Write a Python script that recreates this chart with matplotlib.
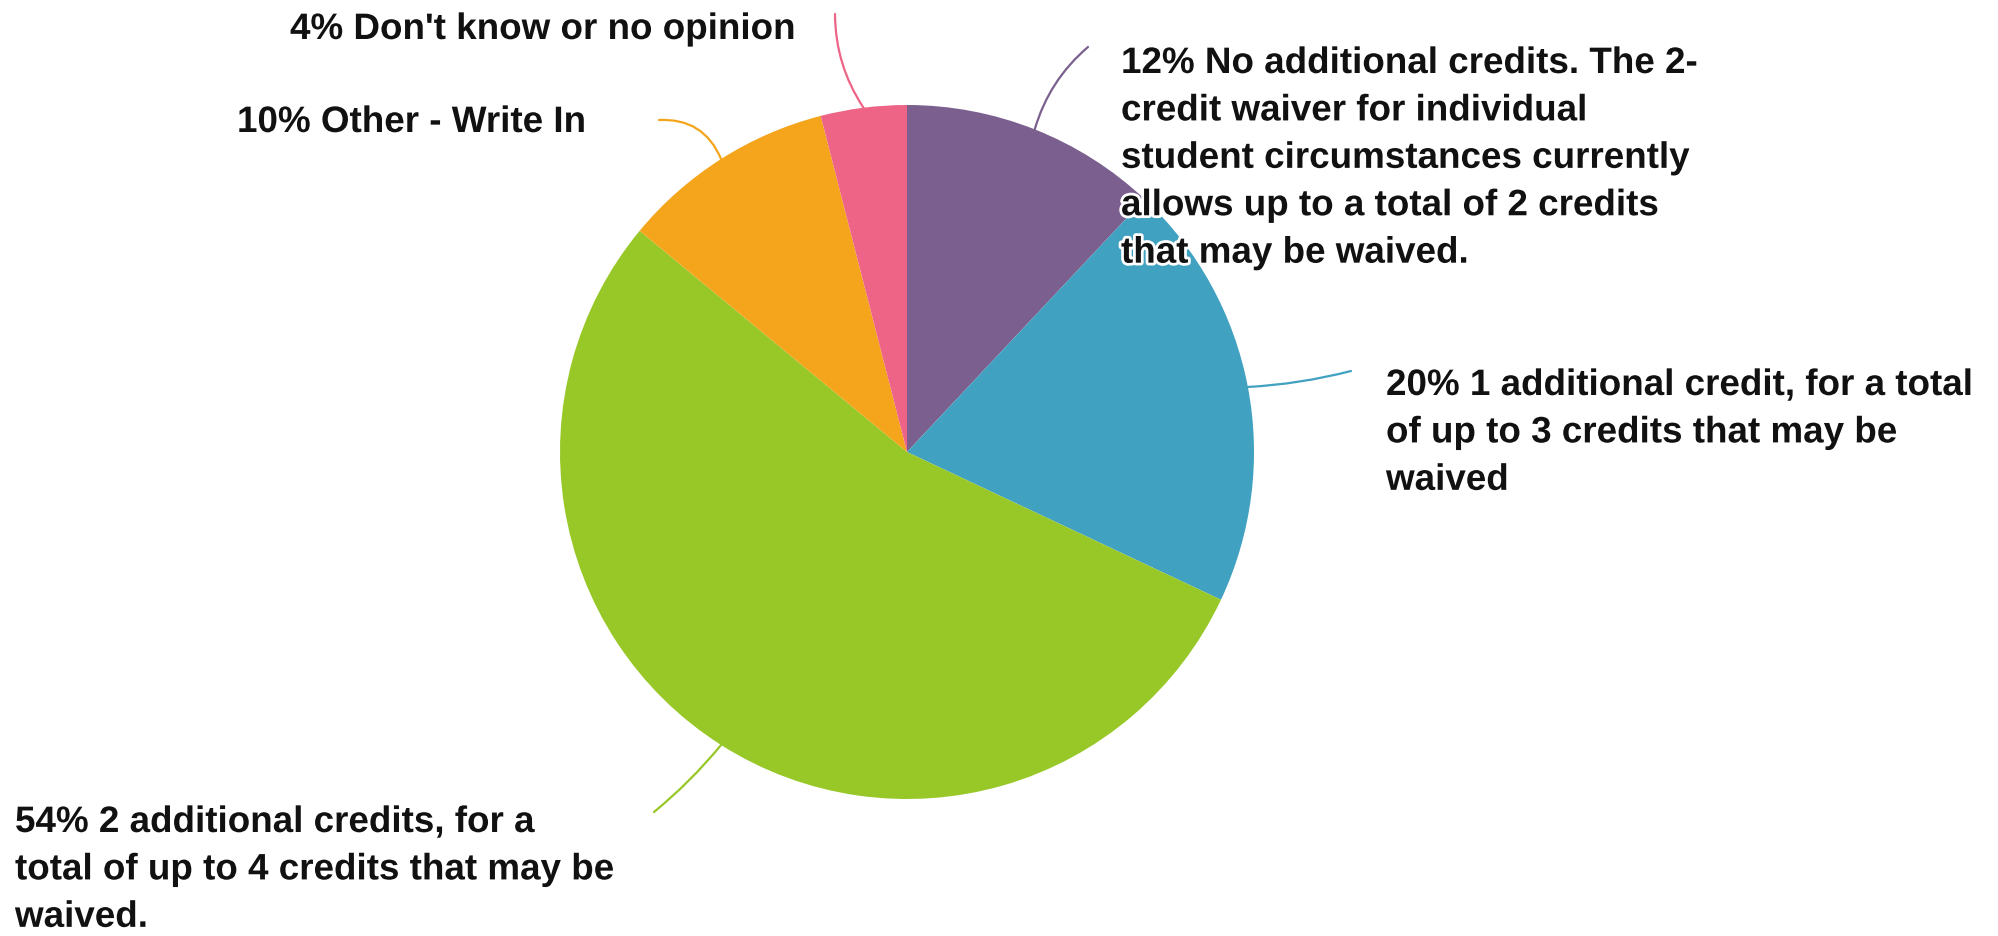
import matplotlib
matplotlib.use("Agg")
import matplotlib.pyplot as plt
import matplotlib.patheffects as pe
import numpy as np

W, H = 1998, 937

# survey answers, clockwise from 12 o'clock
labels = [
    "12% No additional credits. The 2-\ncredit waiver for individual\nstudent circumstances currently\nallows up to a total of 2 credits\nthat may be waived.",
    "20% 1 additional credit, for a total\nof up to 3 credits that may be\nwaived",
    "54% 2 additional credits, for a\ntotal of up to 4 credits that may be\nwaived.",
    "10% Other - Write In",
    "4% Don't know or no opinion",
]
shares = [12, 20, 54, 10, 4]
colors = ["#7B5F8E", "#41A1C1", "#97C828", "#F4A51C", "#EE6486"]

# where each label sits (left edge, top) in pixels from the top-left corner
label_xy = [(1121, 47), (1386, 369), (15, 806), (237, 106), (290, 13)]
# where each leader line ends and how much it bends
line_end = [(1088, 48), (1351, 372), (654, 813), (659, 121), (835, 15)]
line_rad = [-0.15, 0.05, -0.05, 0.35, -0.15]

cx, cy, r = 907, 453, 347

fig = plt.figure(figsize=(W / 100, H / 100), dpi=100)
ax = fig.add_axes([0, 0, 1, 1])

wedges, _ = ax.pie(shares, colors=colors, startangle=90, counterclock=False,
                   center=(cx, H - cy), radius=r,
                   wedgeprops=dict(linewidth=0))
ax.set_xlim(0, W)
ax.set_ylim(0, H)
ax.set_aspect("auto")
ax.axis("off")

halo = [pe.withStroke(linewidth=4, foreground="white")]

for w, lab, (tx, ty), (ex, ey), rad, c in zip(wedges, labels, label_xy,
                                               line_end, line_rad, colors):
    mid = np.deg2rad((w.theta1 + w.theta2) / 2)
    sx = cx + r * np.cos(mid)
    sy = H - cy + r * np.sin(mid)
    ax.annotate("", xy=(ex, H - ey), xytext=(sx, sy),
                arrowprops=dict(arrowstyle="-", color=c, lw=1.6,
                                connectionstyle=f"arc3,rad={rad}",
                                shrinkA=0, shrinkB=0))
    ax.text(tx, H - ty, lab, ha="left", va="top", fontsize=26.5,
            fontweight="bold", family="Liberation Sans", color="#111111",
            linespacing=1.46, path_effects=halo)

fig.savefig("out.png", dpi=100, facecolor="white")
